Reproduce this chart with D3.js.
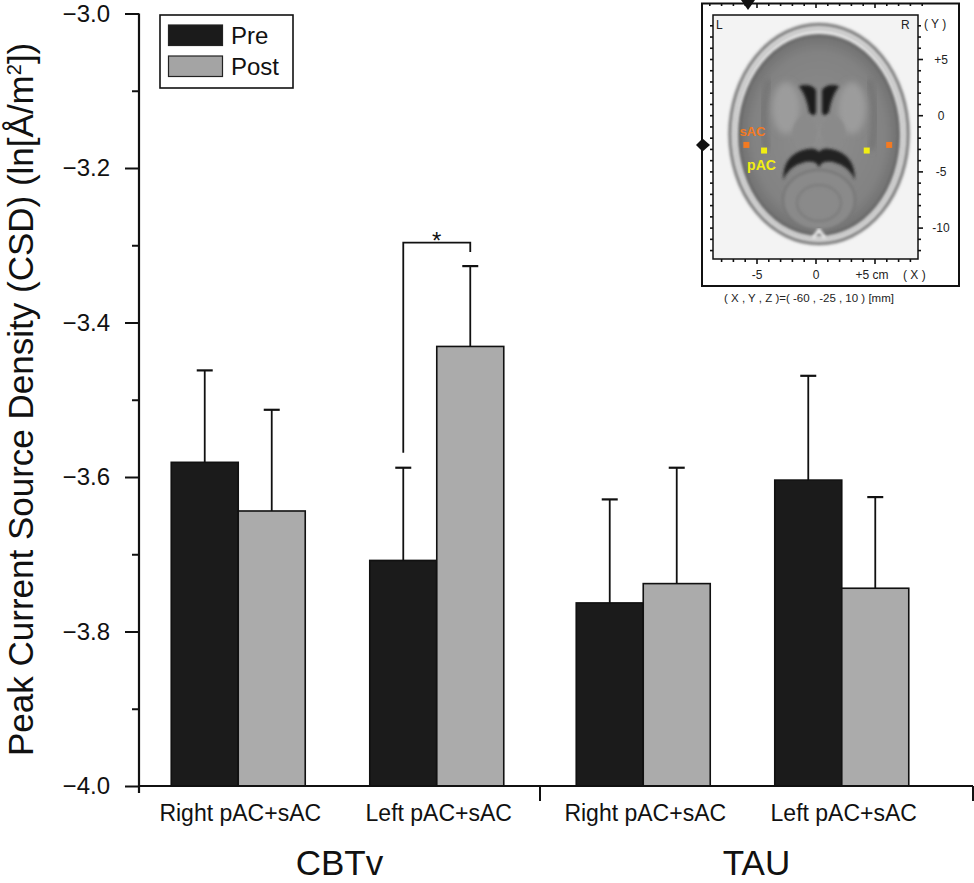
<!DOCTYPE html>
<html>
<head>
<meta charset="utf-8">
<script src="https://cdn.jsdelivr.net/npm/d3@7"></script>
<style>
  html,body{margin:0;padding:0;background:#fff;}
  svg{display:block;font-family:"Liberation Sans",Arial,sans-serif;}
</style>
</head>
<body>
<svg id="chart" width="974" height="883"></svg>
<script>
// ---------- data ----------
const groups = ["CBTv", "TAU"];
const regions = ["Right pAC+sAC", "Left pAC+sAC"];
const series = ["Pre", "Post"];
const preMean  = [-3.581, -3.708, -3.763, -3.604];
const preErr   = [0.119, 0.120, 0.134, 0.135];
const postMean = [-3.644, -3.431, -3.738, -3.744];
const postErr  = [0.131, 0.104, 0.150, 0.118];
const majorTicks = [-4.0, -3.8, -3.6, -3.4, -3.2, -3.0];
const minorTicks = [-3.9, -3.7, -3.5, -3.3, -3.1];
const yLabelParts = ["Peak Current Source Density (CSD) (ln[Å/m", "2", "])"];
const sigPair = {group: "CBTv", region: "Left pAC+sAC", label: "*"};

// inset (decorative brain slice) annotations, in cm
const insetYTicks = [5, 0, -5, -10];
const insetYLabels = ["+5", "0", "-5", "-10"];
const insetXTicks = [-5, 0, 5];
const insetXLabels = ["-5", "0", "+5 cm"];
const electrodes = [
  {name: "sAC", x: -5.9, y: -2.6, color: "#f37a22"},
  {name: "pAC", x: -4.4, y: -3.1, color: "#f2ee12"},
  {name: "pAC", x: 4.3,  y: -3.1, color: "#f2ee12"},
  {name: "sAC", x: 6.2,  y: -2.6, color: "#f37a22"}
];

// ---------- build table ----------
const table = [];
groups.forEach((g, gi) => regions.forEach((r, ri) => {
  const i = gi * regions.length + ri;
  table.push({group: g, region: r, series: "Pre", mean: preMean[i], err: preErr[i]});
  table.push({group: g, region: r, series: "Post", mean: postMean[i], err: postErr[i]});
}));

const svg = d3.select("#chart");
const defs = svg.append("defs");

// ---------- scales ----------
const y = d3.scaleLinear().domain([-4, -3]).range([786, 13.5]);
const xG = d3.scaleBand().domain(groups).range([135, 945]);
const xR = d3.scaleBand().domain(regions).range([0, xG.bandwidth()]).paddingOuter(0.02);
const xS = d3.scaleBand().domain(series).range([-67, 67]);
const color = d3.scaleOrdinal().domain(series).range(["#1b1b1b", "#ababab"]);
const center = d => xG(d.group) + xR(d.region) + xR.bandwidth() / 2;

const axisX0 = 139, axisX1 = 973;

// ---------- bars ----------
svg.append("g").selectAll("rect").data(table).join("rect")
  .attr("x", d => center(d) + xS(d.series))
  .attr("y", d => y(d.mean))
  .attr("width", xS.bandwidth())
  .attr("height", d => y(-4) - y(d.mean))
  .attr("fill", d => color(d.series))
  .attr("stroke", "#111").attr("stroke-width", 1.6);

// ---------- error bars (upper only) ----------
const eb = svg.append("g").attr("stroke", "#111");
eb.selectAll("line.v").data(table).join("line").attr("class", "v")
  .attr("x1", d => center(d) + xS(d.series) + xS.bandwidth() / 2)
  .attr("x2", d => center(d) + xS(d.series) + xS.bandwidth() / 2)
  .attr("y1", d => y(d.mean)).attr("y2", d => y(d.mean + d.err))
  .attr("stroke-width", 1.8);
eb.selectAll("line.c").data(table).join("line").attr("class", "c")
  .attr("x1", d => center(d) + xS(d.series) + xS.bandwidth() / 2 - 8)
  .attr("x2", d => center(d) + xS(d.series) + xS.bandwidth() / 2 + 8)
  .attr("y1", d => y(d.mean + d.err)).attr("y2", d => y(d.mean + d.err))
  .attr("stroke-width", 2.2);

// ---------- significance bracket ----------
const sp = table.filter(d => d.group === sigPair.group && d.region === sigPair.region);
const pA = sp.find(d => d.series === "Pre"), pB = sp.find(d => d.series === "Post");
const xa = center(pA) + xS("Pre") + xS.bandwidth() / 2;
const xb = center(pB) + xS("Post") + xS.bandwidth() / 2;
const ya = y(pA.mean + pA.err) - 15, yb = y(pB.mean + pB.err) - 14;
const yTop = Math.min(ya, yb) - 9.5;
svg.append("path")
  .attr("d", `M${xa},${ya}V${yTop}H${xb}V${yb}`)
  .attr("fill", "none").attr("stroke", "#111").attr("stroke-width", 1.8);
svg.append("text").attr("x", (xa + xb) / 2).attr("y", yTop + 6)
  .attr("text-anchor", "middle").attr("font-size", 24).attr("fill", "#111")
  .text(sigPair.label);

// ---------- y axis ----------
const fmt = d3.format(".1f");
const gy = svg.append("g").attr("transform", `translate(${axisX0},0)`);
gy.call(d3.axisLeft(y).tickValues(majorTicks).tickSize(14).tickPadding(15).tickFormat(fmt));
gy.select(".domain").remove();
gy.selectAll(".tick line").attr("stroke", "#111").attr("stroke-width", 2);
gy.selectAll(".tick text").attr("font-size", 24).attr("fill", "#111")
  .attr("font-family", "Liberation Sans, Arial, sans-serif");
const gym = svg.append("g").attr("transform", `translate(${axisX0},0)`);
gym.call(d3.axisLeft(y).tickValues(minorTicks).tickSize(7).tickFormat(""));
gym.select(".domain").remove();
gym.selectAll(".tick line").attr("stroke", "#111").attr("stroke-width", 2);
svg.append("line").attr("x1", axisX0).attr("x2", axisX0)
  .attr("y1", y(-3)).attr("y2", y(-4) + 7)
  .attr("stroke", "#111").attr("stroke-width", 2.2);

// ---------- x axis ----------
svg.append("line").attr("x1", axisX0 - 1).attr("x2", axisX1)
  .attr("y1", y(-4)).attr("y2", y(-4)).attr("stroke", "#111").attr("stroke-width", 2.2);
const gBounds = [xG(groups[1]), axisX1];
svg.append("g").selectAll("line").data(gBounds).join("line")
  .attr("x1", d => d).attr("x2", d => d)
  .attr("y1", y(-4)).attr("y2", y(-4) + 15)
  .attr("stroke", "#111").attr("stroke-width", 2);

// category labels
const cats = [];
groups.forEach(g => regions.forEach(r => cats.push({group: g, region: r})));
svg.append("g").selectAll("text").data(cats).join("text")
  .attr("x", d => center(d) + 2).attr("y", 821)
  .attr("text-anchor", "middle").attr("font-size", 23).attr("fill", "#111")
  .text(d => d.region);

// group labels centred on axis segments
const segs = [[axisX0, xG(groups[1])], [xG(groups[1]), axisX1]];
svg.append("g").selectAll("text").data(groups).join("text")
  .attr("x", (d, i) => (segs[i][0] + segs[i][1]) / 2)
  .attr("y", 875)
  .attr("text-anchor", "middle").attr("font-size", 35).attr("fill", "#111")
  .text(d => d);

// y label with superscript
const yl = svg.append("text")
  .attr("transform", `translate(33,756) rotate(-90)`)
  .attr("text-anchor", "start").attr("font-size", 35).attr("fill", "#111");
yl.append("tspan").text(yLabelParts[0]);
yl.append("tspan").attr("font-size", 20).attr("dy", -12).text(yLabelParts[1]);
yl.append("tspan").attr("dy", 12).text(yLabelParts[2]);

// ---------- legend ----------
const lg = svg.append("g");
lg.append("rect").attr("x", 160).attr("y", 15).attr("width", 133).attr("height", 73)
  .attr("fill", "#fff").attr("stroke", "#111").attr("stroke-width", 1.6);
lg.selectAll("rect.sw").data(series).join("rect").attr("class", "sw")
  .attr("x", 168.5).attr("y", (d, i) => 25 + i * 31)
  .attr("width", 54).attr("height", 20.5)
  .attr("fill", d => d === "Pre" ? "#1b1b1b" : "#a4a4a4")
  .attr("stroke", "#222").attr("stroke-width", 1.2);
lg.selectAll("text").data(series).join("text")
  .attr("x", 231).attr("y", (d, i) => 44 + i * 31)
  .attr("font-size", 24).attr("fill", "#111").text(d => d);

// ---------- inset brain slice ----------
const ins = svg.append("g");
const blur = defs.append("filter").attr("id", "blur").attr("x", "-20%").attr("y", "-20%")
  .attr("width", "140%").attr("height", "140%");
blur.append("feGaussianBlur").attr("stdDeviation", 1.6);
const blur2 = defs.append("filter").attr("id", "blur2").attr("x", "-30%").attr("y", "-30%")
  .attr("width", "160%").attr("height", "160%");
blur2.append("feGaussianBlur").attr("stdDeviation", 3);
const rg = defs.append("radialGradient").attr("id", "brainG").attr("cx", "50%").attr("cy", "50%").attr("r", "55%");
rg.append("stop").attr("offset", "0%").attr("stop-color", "#8e8e8e");
rg.append("stop").attr("offset", "75%").attr("stop-color", "#828282");
rg.append("stop").attr("offset", "100%").attr("stop-color", "#676767");

const ix = d3.scaleLinear().domain([0, 5]).range([816, 875]);
const iy = d3.scaleLinear().domain([0, 5]).range([115.7, 59.5]);

ins.append("rect").attr("x", 702).attr("y", 3.5).attr("width", 257).attr("height", 282.5)
  .attr("fill", "#fff").attr("stroke", "#111").attr("stroke-width", 2);
ins.append("rect").attr("x", 713).attr("y", 15).attr("width", 205).attr("height", 244)
  .attr("fill", "#f3f3f3").attr("stroke", "#111").attr("stroke-width", 1.5);

// tick marks: top edge of frame, left, right and bottom edges of image
const cmRangeX = d3.range(-9, 10);
ins.append("g").selectAll("line").data(cmRangeX).join("line")
  .attr("x1", d => ix(d)).attr("x2", d => ix(d)).attr("y1", 3.5).attr("y2", d => d % 5 === 0 ? 8 : 6)
  .attr("stroke", "#111").attr("stroke-width", 1.6);
const cmRangeY = d3.range(-12, 9).filter(d => iy(d) > 17 && iy(d) < 257);
ins.append("g").selectAll("line").data(cmRangeY).join("line")
  .attr("x1", 713).attr("x2", 710).attr("y1", d => iy(d)).attr("y2", d => iy(d))
  .attr("stroke", "#111").attr("stroke-width", 1.6);
ins.append("g").selectAll("line").data(cmRangeY).join("line")
  .attr("x1", 918).attr("x2", d => d % 5 === 0 ? 923 : 921).attr("y1", d => iy(d)).attr("y2", d => iy(d))
  .attr("stroke", "#111").attr("stroke-width", 1.6);
ins.append("g").selectAll("line").data(cmRangeX.filter(d => ix(d) > 715 && ix(d) < 916)).join("line")
  .attr("x1", d => ix(d)).attr("x2", d => ix(d)).attr("y1", 259).attr("y2", d => d % 5 === 0 ? 264 : 262)
  .attr("stroke", "#111").attr("stroke-width", 1.6);

// markers (triangles)
ins.append("path").attr("d", "M741,0 L755,0 L748,10 Z").attr("fill", "#111");
ins.append("path").attr("d", "M702,138 L710,145 L702,152 Z").attr("fill", "#111");
ins.append("path").attr("d", "M703,138 L696,145 L703,152 Z").attr("fill", "#111");

// head / skull
const cx0 = 819, cy0 = 134;
const brain = ins.append("g");
brain.append("ellipse").attr("cx", cx0).attr("cy", cy0).attr("rx", 89).attr("ry", 109.5)
  .attr("fill", "#d9d9d9").attr("stroke", "#6a6a6a").attr("stroke-width", 3).attr("filter", "url(#blur)");
brain.append("ellipse").attr("cx", cx0).attr("cy", cy0).attr("rx", 84).attr("ry", 104.5)
  .attr("fill", "#ececec").attr("stroke", "#b9b9b9").attr("stroke-width", 2).attr("filter", "url(#blur)");
brain.append("ellipse").attr("cx", cx0).attr("cy", cy0 + 1).attr("rx", 80).attr("ry", 100)
  .attr("fill", "url(#brainG)").attr("stroke", "#5a5a5a").attr("stroke-width", 2.2).attr("filter", "url(#blur)");
// frontal midline fissure
brain.append("path").attr("d", `M${cx0},36 L${cx0},72`).attr("stroke", "#4f4f4f").attr("stroke-width", 3)
  .attr("filter", "url(#blur)");
// insular / temporal darker sulci
brain.append("path").attr("d", `M${cx0-50},80 Q${cx0-60},115 ${cx0-52},150`).attr("stroke", "#6a6a6a")
  .attr("stroke-width", 4).attr("fill", "none").attr("filter", "url(#blur2)");
brain.append("path").attr("d", `M${cx0+50},80 Q${cx0+60},115 ${cx0+52},150`).attr("stroke", "#6a6a6a")
  .attr("stroke-width", 4).attr("fill", "none").attr("filter", "url(#blur2)");
// basal ganglia lighter zones
brain.append("ellipse").attr("cx", cx0 - 33).attr("cy", 108).attr("rx", 14).attr("ry", 26)
  .attr("fill", "#9c9c9c").attr("filter", "url(#blur2)");
brain.append("ellipse").attr("cx", cx0 + 33).attr("cy", 108).attr("rx", 14).attr("ry", 26)
  .attr("fill", "#9c9c9c").attr("filter", "url(#blur2)");
// anterior horns of lateral ventricles
brain.append("path")
  .attr("d", `M${cx0-20},86 Q${cx0-8},83 ${cx0-3},90 L${cx0-3},113 Q${cx0-6},118 ${cx0-10},112 Q${cx0-12},97 ${cx0-20},86 Z
              M${cx0+20},86 Q${cx0+8},83 ${cx0+3},90 L${cx0+3},113 Q${cx0+6},118 ${cx0+10},112 Q${cx0+12},97 ${cx0+20},86 Z`)
  .attr("fill", "#1c1c1c").attr("filter", "url(#blur)");
// third ventricle
brain.append("path").attr("d", `M${cx0},118 L${cx0},146`).attr("stroke", "#2a2a2a").attr("stroke-width", 3)
  .attr("filter", "url(#blur)");
// thalami
brain.append("ellipse").attr("cx", cx0 - 14).attr("cy", 132).attr("rx", 12).attr("ry", 16)
  .attr("fill", "#8a8a8a").attr("filter", "url(#blur)");
brain.append("ellipse").attr("cx", cx0 + 14).attr("cy", 132).attr("rx", 12).attr("ry", 16)
  .attr("fill", "#8a8a8a").attr("filter", "url(#blur)");
// posterior dark cisterns / atria
brain.append("path")
  .attr("d", `M${cx0-36},180 Q${cx0-36},156 ${cx0-16},150 Q${cx0-4},146 ${cx0},152 Q${cx0+4},146 ${cx0+16},150 Q${cx0+36},156 ${cx0+36},180
              Q${cx0+30},166 ${cx0+14},162 Q${cx0+2},160 ${cx0},168 Q${cx0-2},160 ${cx0-14},162 Q${cx0-30},166 ${cx0-36},180 Z`)
  .attr("fill", "#232323").attr("filter", "url(#blur)");
// cerebellum
brain.append("ellipse").attr("cx", cx0).attr("cy", 200).attr("rx", 36).attr("ry", 30)
  .attr("fill", "#8a8a8a").attr("stroke", "#737373").attr("stroke-width", 2).attr("filter", "url(#blur)");
brain.append("ellipse").attr("cx", cx0).attr("cy", 203).attr("rx", 22).attr("ry", 18)
  .attr("fill", "none").attr("stroke", "#7a7a7a").attr("stroke-width", 2).attr("filter", "url(#blur)");
brain.append("path").attr("d", `M${cx0},172 L${cx0},228`).attr("stroke", "#6d6d6d").attr("stroke-width", 2)
  .attr("filter", "url(#blur)");
brain.append("path").attr("d", `M${cx0-6},238 L${cx0},230 L${cx0+6},238`).attr("stroke", "#f0f0f0").attr("stroke-width", 3)
  .attr("fill", "none").attr("filter", "url(#blur)");

// electrodes
ins.append("g").selectAll("rect").data(electrodes).join("rect")
  .attr("x", d => ix(d.x) - 3).attr("y", d => iy(d.y) - 3).attr("width", 6).attr("height", 6)
  .attr("fill", d => d.color);
ins.append("text").attr("x", ix(electrodes[0].x) - 7).attr("y", iy(electrodes[0].y) - 9)
  .attr("font-size", 13).attr("font-weight", "bold").attr("fill", electrodes[0].color).text("sAC");
ins.append("text").attr("x", ix(electrodes[1].x) - 17).attr("y", iy(electrodes[1].y) + 19)
  .attr("font-size", 14).attr("font-weight", "bold").attr("fill", electrodes[1].color).text("pAC");

// inset text
const itxt = ins.append("g").attr("fill", "#222").attr("font-size", 12);
itxt.append("text").attr("x", 716).attr("y", 29).text("L");
itxt.append("text").attr("x", 901).attr("y", 29).text("R");
itxt.append("text").attr("x", 924).attr("y", 28).text("( Y )");
itxt.selectAll("text.yl").data(insetYTicks).join("text").attr("class", "yl")
  .attr("x", 941).attr("y", d => iy(d) + 4).attr("text-anchor", "middle")
  .text((d, i) => insetYLabels[i]);
itxt.selectAll("text.xl").data(insetXTicks).join("text").attr("class", "xl")
  .attr("x", (d, i) => ix(d) + (i === 2 ? -3 : 0)).attr("y", 279).attr("text-anchor", "middle")
  .text((d, i) => insetXLabels[i]);
itxt.append("text").attr("x", 903).attr("y", 279).text("( X )");
itxt.append("text").attr("x", 809).attr("y", 302).attr("text-anchor", "middle").attr("font-size", 11.5)
  .text("( X , Y , Z )=( -60 , -25 , 10 ) [mm]");
</script>
</body>
</html>
